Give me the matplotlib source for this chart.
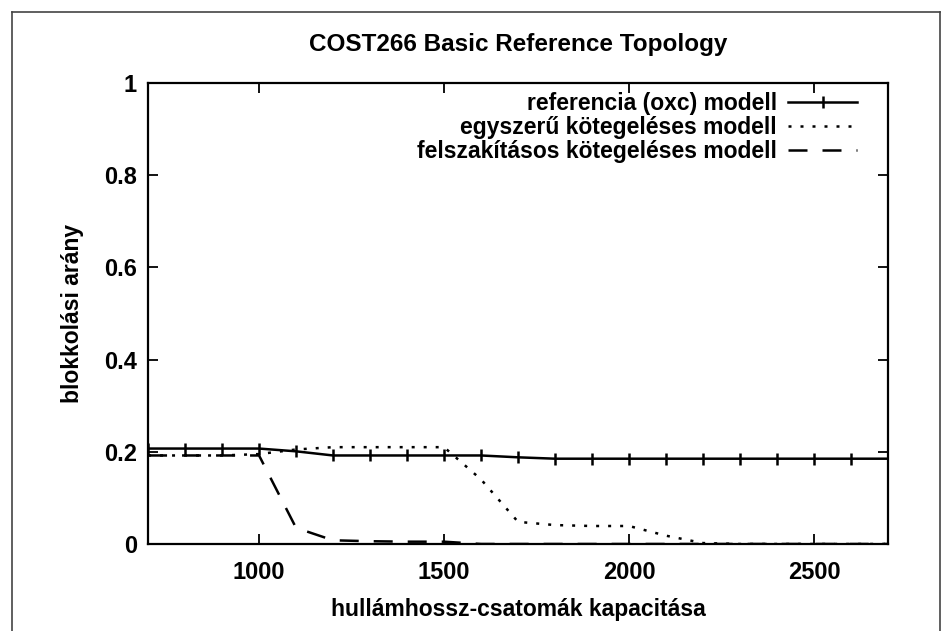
import numpy as np
import matplotlib
matplotlib.use('Agg')
import matplotlib.pyplot as plt
from matplotlib.lines import Line2D

plt.rcParams['font.family'] = ['Liberation Sans', 'DejaVu Sans']
plt.rcParams['font.weight'] = 'bold'
plt.rcParams['axes.titleweight'] = 'bold'
plt.rcParams['axes.labelweight'] = 'bold'

# kapacitás (x tengely)
x = np.arange(700, 2701, 100)
# referencia (oxc) modell
y_ref = [0.207, 0.207, 0.207, 0.207, 0.201, 0.192, 0.192, 0.192, 0.192, 0.192,
         0.188, 0.185, 0.185, 0.185, 0.185, 0.185, 0.185, 0.185, 0.185, 0.185, 0.185]
# egyszerű kötegeléses modell
y_egy = [0.192, 0.192, 0.192, 0.195, 0.205, 0.21, 0.21, 0.21, 0.21, 0.14,
         0.048, 0.041, 0.039, 0.039, 0.018, 0.002, 0.0, 0.0, 0.0, 0.0, 0.0]
# felszakításos kötegeléses modell
y_fel = [0.192, 0.192, 0.192, 0.192, 0.035, 0.008, 0.006, 0.005, 0.005, 0.0,
         0.0, 0.0, 0.0, 0.0, 0.0, 0.0, 0.0, 0.0, 0.0, 0.0, 0.0]

fig = plt.figure(figsize=(9.43, 6.31), dpi=100)
ax = fig.add_axes([0.157, 0.1379, 0.7847, 0.7306])

ax.plot(x, y_ref, 'k-', lw=1.8, marker='|', ms=9, mew=1.8,
        label='referencia (oxc) modell')
ax.plot(x, y_egy, 'k', lw=1.8, dashes=(1.2, 3.6),
        label='egyszerű kötegeléses modell')
ax.plot(x, y_fel, 'k', lw=1.8, dashes=(7.6, 6),
        label='felszakításos kötegeléses modell')

ax.set_xlim(700, 2700)
ax.set_ylim(0, 1)
ax.set_xticks([1000, 1500, 2000, 2500])
ax.set_yticks([0, 0.2, 0.4, 0.6, 0.8, 1])
ax.set_yticklabels(['0', '0.2', '0.4', '0.6', '0.8', '1'])
ax.tick_params(direction='in', length=7, width=1.3, labelsize=17,
               top=True, right=True, pad=8)
ax.tick_params(axis='x', pad=12)
for s in ax.spines.values():
    s.set_linewidth(1.6)

ax.set_title('COST266 Basic Reference Topology', fontsize=17.5, pad=23)
ax.set_xlabel('hullámhossz-csatomák kapacitása', fontsize=16.5, labelpad=10)
ax.set_ylabel('blokkolási arány', fontsize=16.5, labelpad=14.5)

leg = ax.legend(loc='upper right', bbox_to_anchor=(0.958, 0.98), frameon=False,
                fontsize=16.5, markerfirst=False, handlelength=3.0,
                labelspacing=0.05, borderaxespad=0, borderpad=0,
                handletextpad=0.5)

# külső keret
fig.add_artist(Line2D([12/943, 12/943], [0, 1 - 12/631], color='#444444', lw=1.2))
fig.add_artist(Line2D([12/943, 940/943], [1 - 12/631, 1 - 12/631], color='#444444', lw=1.2))
fig.add_artist(Line2D([940/943, 940/943], [0, 1 - 12/631], color='#444444', lw=1.2))

plt.savefig('out.png', dpi=100)
